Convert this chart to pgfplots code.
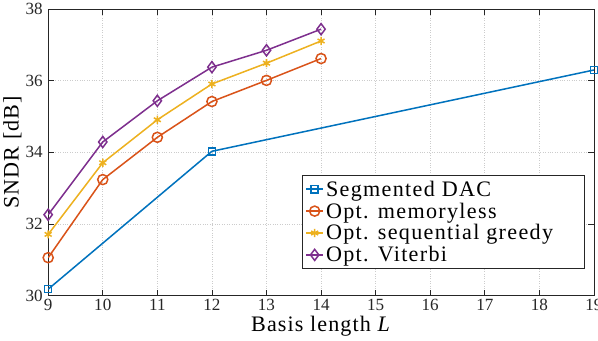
\documentclass[border=0pt]{standalone}
\usepackage{fontspec}
\setmainfont{Liberation Serif}
\usepackage{pgfplots}
\pgfplotsset{compat=1.18}

\definecolor{mblue}{rgb}{0,0.447,0.741}
\definecolor{mred}{rgb}{0.85,0.325,0.098}
\definecolor{myellow}{rgb}{0.929,0.694,0.125}
\definecolor{mpurple}{rgb}{0.494,0.184,0.556}
\definecolor{axgray}{rgb}{0.15,0.15,0.15}

\begin{document}
\begin{tikzpicture}
\begin{axis}[
    scale only axis,
    width=541bp, height=284bp,
    xmin=9, xmax=19, ymin=30, ymax=38,
    xtick={9,10,...,19},
    ytick={30,32,...,38},
    tick align=inside,
    major tick length=6bp,
    axis line style={axgray, line width=0.7bp},
    tick style={axgray, line width=0.7bp},
    grid=major,
    grid style={dotted, gray!40, line width=0.7bp},
    ticklabel style={font=\fontsize{17}{19}\selectfont, text=axgray},
    yticklabel style={xshift=-2bp},
    /pgf/number format/assume math mode=true,
    xlabel={Basis length \textit{L}},
    ylabel={SNDR [dB]},
    label style={font=\fontsize{22}{24}\selectfont\addfontfeature{LetterSpace=5}, text=black},
    xlabel style={yshift=1bp},
    ylabel style={yshift=-3bp},
    legend style={at={(0.983,0.094)}, anchor=south east,
                  font=\fontsize{22}{24}\selectfont\addfontfeature{LetterSpace=6},
                  draw=axgray, line width=0.7bp,
                  inner sep=3bp, row sep=1bp,
                  cells={anchor=west}},
    legend image post style={line width=1.5bp},
    every axis plot/.append style={line width=1.5bp},
  ]
  \addplot[mblue, mark=square, mark size=3.5bp]
    coordinates {(9,30.18) (12,34.03) (19,36.30)};
  \addplot[mred, mark=o, mark size=5bp]
    coordinates {(9,31.06) (10,33.24) (11,34.42) (12,35.42) (13,36.01) (14,36.62)};
  \addplot[myellow, mark=asterisk, mark size=4bp]
    coordinates {(9,31.71) (10,33.71) (11,34.91) (12,35.91) (13,36.49) (14,37.11)};
  \addplot[mpurple, mark=diamond, mark size=5.5bp]
    coordinates {(9,32.26) (10,34.29) (11,35.44) (12,36.38) (13,36.85) (14,37.44)};
  \legend{Segmented DAC, Opt. memoryless,
          Opt. sequential greedy\hspace*{26bp}, Opt. Viterbi}
\end{axis}
% the reference is cropped just right of the axis box
\coordinate (R) at ([xshift=4bp]current axis.north east);
\pgfresetboundingbox
\path[use as bounding box] (current axis.outer south west)
  rectangle (R |- current axis.outer north east);
\end{tikzpicture}
\end{document}
